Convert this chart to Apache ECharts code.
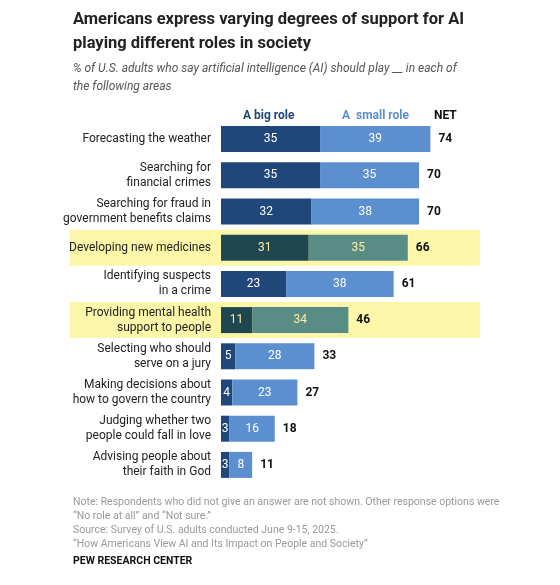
<!DOCTYPE html>
<html><head><meta charset="utf-8">
<script src="https://cdn.jsdelivr.net/npm/echarts@6/dist/echarts.min.js"></script>
<style>body{margin:0;background:#fff}#c{width:560px;height:585px}</style>
</head><body><div id="c"></div>
<script>
const categories = ["Forecasting the weather","Searching for\nfinancial crimes","Searching for fraud in\ngovernment benefits claims","Developing new medicines","Identifying suspects\nin a crime","Providing mental health\nsupport to people","Selecting who should\nserve on a jury","Making decisions about\nhow to govern the country","Judging whether two\npeople could fall in love","Advising people about\ntheir faith in God"];
const bigRole = [35,35,32,31,23,11,5,4,3,3];
const smallRole = [39,35,38,35,38,34,28,23,16,8];
const net = [74,70,70,66,61,46,33,27,18,11];
const highlighted = [3,5];

const F = "Roboto, 'Liberation Sans', sans-serif";
const chart = echarts.init(document.getElementById('c'));
const hl = i => highlighted.includes(i);
const bigData = bigRole.map((v,i)=>({value:v,itemStyle:{color:hl(i)?'#1f4750':'#1f477a'},label:{color:hl(i)?'#fbf0a0':'#fff'}}));
const smallData = smallRole.map((v,i)=>({value:v,itemStyle:{color:hl(i)?'#5a8c86':'#5b8fcf'},label:{color:hl(i)?'#fbf0a0':'#fff'}}));
const t = (x,y,text,style)=>({type:'text',left:x,top:y,style:Object.assign({text,font:"12px "+F,fill:'#333'},style)});
const opt = {
  animation:false,
  grid:{left:221,top:121,width:283,height:362},
  xAxis:{type:'value',min:0,max:100,show:false},
  yAxis:{type:'category',data:categories,inverse:true,axisLine:{show:false},axisTick:{show:false},
    axisLabel:{fontFamily:F,fontSize:12,color:'#222',lineHeight:15,margin:10}},
  series:[
    {type:'bar',stack:'a',data:bigData,barWidth:26,label:{show:true,position:'inside',fontFamily:F,fontSize:12}},
    {type:'bar',stack:'a',data:smallData,barWidth:26,itemStyle:{borderColor:'#fff',borderWidth:0},label:{show:true,position:'inside',fontFamily:F,fontSize:12}},
    {type:'bar',stack:'a',data:net.map(()=>0.001),barWidth:26,itemStyle:{color:'transparent'},
      label:{show:true,position:'right',distance:8,fontFamily:F,fontSize:12,fontWeight:'bold',color:'#111',formatter:p=>net[p.dataIndex]}}
  ],
  graphic:[
    t(73,8,"Americans express varying degrees of support for AI\nplaying different roles in society",{font:"bold 16.5px "+F,fill:'#222',lineHeight:24}),
    t(73,60,"% of U.S. adults who say artificial intelligence (AI) should play __ in each of\nthe following areas",{font:"italic 12px "+F,fill:'#555',lineHeight:18}),
    t(243,110,"A big role",{font:"bold 12px "+F,fill:'#1f477a'}),
    t(342,110,"A  small role",{font:"bold 12px "+F,fill:'#5b8fcf'}),
    t(434,110,"NET",{font:"bold 12px "+F,fill:'#111'}),
    t(73,495,"Note: Respondents who did not give an answer are not shown. Other response options were\n\u201cNo role at all\u201d and \u201cNot sure.\u201d\nSource: Survey of U.S. adults conducted June 9-15, 2025.\n\u201cHow Americans View AI and Its Impact on People and Society\u201d",{font:"10.5px "+F,fill:'#999',lineHeight:14}),
    t(73,556,"PEW RESEARCH CENTER",{font:"bold 10.5px "+F,fill:'#111'})
  ]
};
chart.setOption(opt);
const rects = highlighted.map(i=>{
  const y0 = chart.convertToPixel({yAxisIndex:0}, categories[i]);
  return {type:'rect',z:-10,shape:{x:70,y:y0-18,width:410,height:36},style:{fill:'#fcf6a9'}};
});
chart.setOption({graphic:opt.graphic.concat(rects)});
</script></body></html>
